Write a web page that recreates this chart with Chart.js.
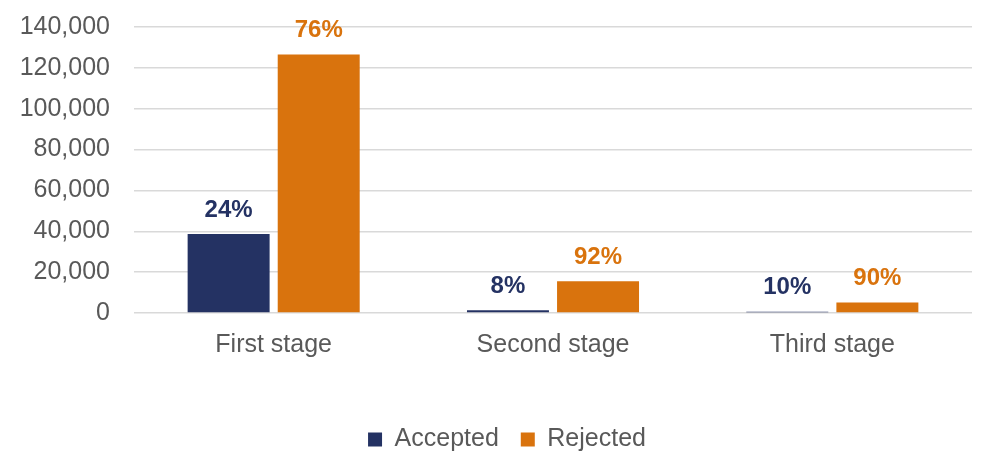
<!DOCTYPE html>
<html>
<head>
<meta charset="utf-8">
<script src="https://cdn.jsdelivr.net/npm/chart.js@4/dist/chart.umd.min.js"></script>
<style>
  html, body { margin: 0; padding: 0; background: #fff; overflow: hidden; }
  #wrap { width: 1004px; height: 465px; margin-top: -12px; }
</style>
</head>
<body>
<div id="wrap"><canvas id="grafico"></canvas></div>
<script>
// Datos del gráfico
const etapas = ['First stage', 'Second stage', 'Third stage'];
const aceptados = [38700, 1300, 580];
const rechazados = [126500, 15500, 5200];
const pctAceptados = ['24%', '8%', '10%'];
const pctRechazados = ['76%', '92%', '90%'];

const colorAceptado = '#243263';
const colorRechazado = '#D9730D';
const fuente = "'Liberation Sans', Arial, sans-serif";

// Plugin sencillo para poner los porcentajes encima de las barras
const etiquetasPct = {
    id: 'etiquetasPct',
    afterDatasetsDraw(chart) {
        const ctx = chart.ctx;
        const textos = [pctAceptados, pctRechazados];
        const colores = [colorAceptado, colorRechazado];
        ctx.save();
        ctx.font = 'bold 24px ' + fuente;
        ctx.textAlign = 'center';
        ctx.textBaseline = 'middle';
        chart.data.datasets.forEach((ds, i) => {
            const meta = chart.getDatasetMeta(i);
            ctx.fillStyle = colores[i];
            meta.data.forEach((bar, j) => {
                ctx.fillText(textos[i][j], bar.x, bar.y - 24);
            });
        });
        ctx.restore();
    }
};

// Mueve la leyenda un poco a la derecha (centrada en todo el lienzo)
const moverLeyenda = {
    id: 'moverLeyenda',
    afterLayout(chart) {
        chart.legend.left += 21;
        chart.legend.right += 21;
    }
};

const ctx = document.getElementById('grafico').getContext('2d');
const chart = new Chart(ctx, {
    type: 'bar',
    data: {
        labels: etapas,
        datasets: [
            {
                label: 'Accepted',
                data: aceptados,
                backgroundColor: colorAceptado,
                categoryPercentage: 0.645,
                barPercentage: 0.91
            },
            {
                label: 'Rejected',
                data: rechazados,
                backgroundColor: colorRechazado,
                categoryPercentage: 0.645,
                barPercentage: 0.91
            }
        ]
    },
    options: {
        responsive: true,
        maintainAspectRatio: false,
        animation: false,
        layout: {
            padding: { top: -8, right: 32, bottom: -9, left: 0 }
        },
        plugins: {
            legend: {
                position: 'bottom',
                labels: {
                    color: '#595959',
                    font: { family: fuente, size: 25 },
                    boxWidth: 14,
                    boxHeight: 14,
                    padding: 22
                }
            },
            tooltip: { enabled: false }
        },
        scales: {
            x: {
                grid: { display: false, drawTicks: false },
                border: { display: false },
                ticks: {
                    color: '#595959',
                    font: { family: fuente, size: 25 },
                    padding: 17
                },
                afterFit(scale) {
                    scale.height = 92;
                }
            },
            y: {
                min: 0,
                max: 140000,
                grid: { color: '#d9d9d9', lineWidth: 1.5, drawTicks: false },
                border: { display: false },
                ticks: {
                    stepSize: 20000,
                    color: '#595959',
                    font: { family: fuente, size: 25 },
                    padding: 24,
                    callback: (v) => v.toLocaleString('en-US')
                },
                afterFit(scale) {
                    scale.width = 134;
                }
            }
        }
    },
    plugins: [etiquetasPct, moverLeyenda]
});
</script>
</body>
</html>
